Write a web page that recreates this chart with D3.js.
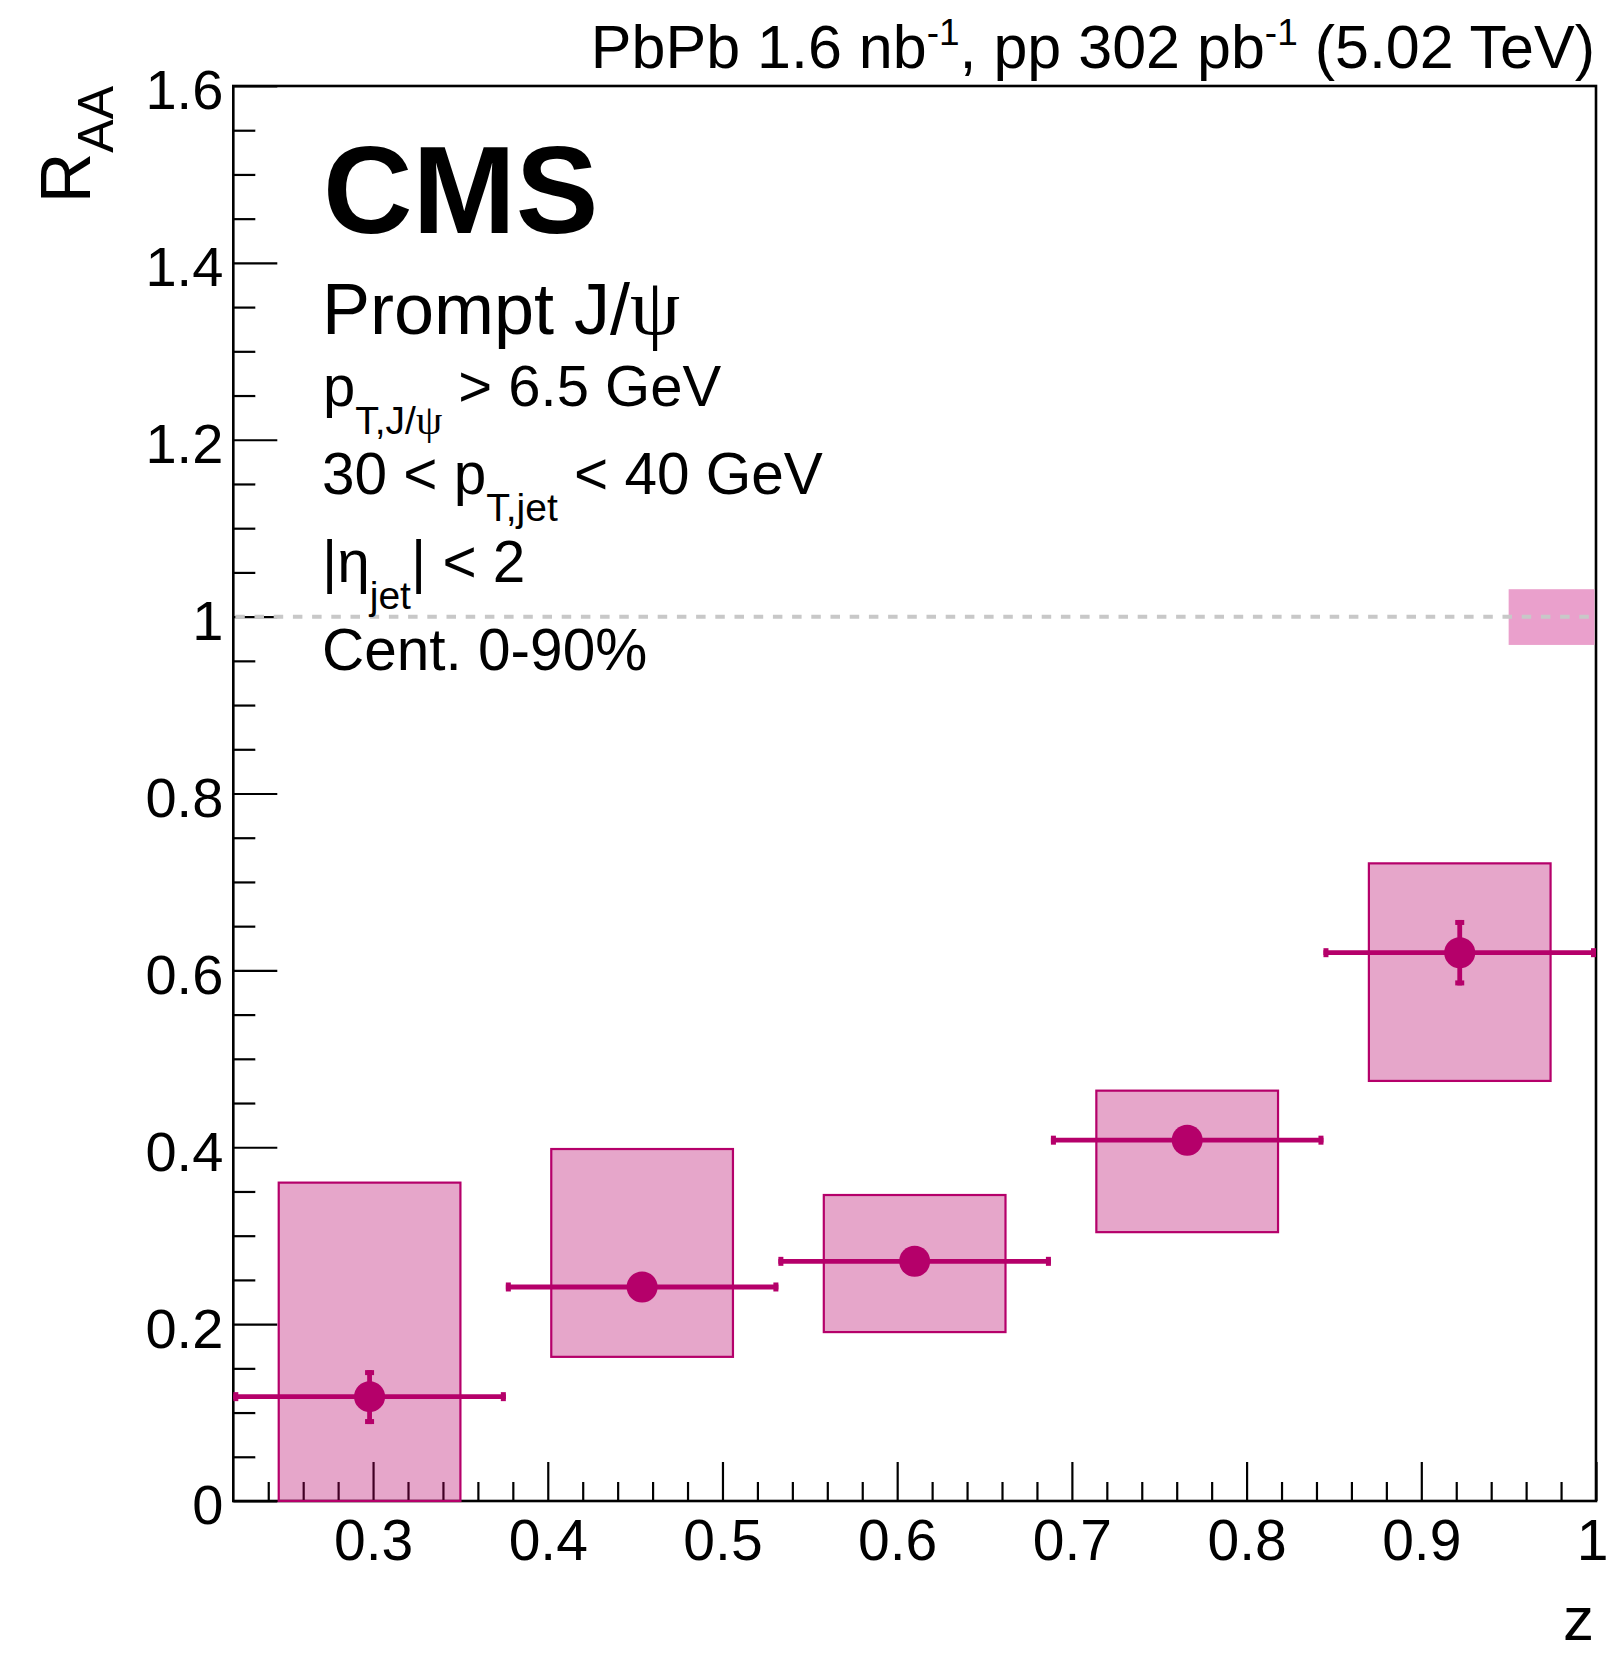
<!DOCTYPE html>
<html><head><meta charset="utf-8">
<script src="https://cdn.jsdelivr.net/npm/d3@7"></script>
<style>
body{margin:0;background:#fff}
svg{display:block}
text{font-family:"Liberation Sans",Arial,Helvetica,sans-serif;fill:#000}
</style>
</head><body><svg id="c" width="1609" height="1654"></svg>
<script>
// ---- data ----
const zCenter  = [0.298, 0.454, 0.610, 0.766, 0.922];
const zLow     = [0.220, 0.376, 0.532, 0.688, 0.844];
const zHigh    = [0.376, 0.532, 0.688, 0.844, 1.000];
const raa      = [0.118, 0.242, 0.271, 0.408, 0.620];
const statLow  = [0.087, 0.232, 0.261, 0.398, 0.583];
const statHigh = [0.148, 0.252, 0.281, 0.418, 0.657];
const systLow  = [-0.120, 0.163, 0.191, 0.304, 0.475];
const systHigh = [0.360, 0.398, 0.346, 0.464, 0.721];
const systHalfWidth = 0.052;
const globalUnc = [0.968, 1.031];
const globalZ   = [0.950, 1.000];
const refLine = 1.0;
const xDomain = [0.22, 1.0];
const yDomain = [0, 1.6];
const xMajorTicks = [0.3, 0.4, 0.5, 0.6, 0.7, 0.8, 0.9, 1.0];
const xTickLabels = ["0.3", "0.4", "0.5", "0.6", "0.7", "0.8", "0.9", "1"];
const xMinorTicks = [0.24,0.26,0.28,0.32,0.34,0.36,0.38,0.42,0.44,0.46,0.48,0.52,0.54,0.56,0.58,0.62,0.64,0.66,0.68,0.72,0.74,0.76,0.78,0.82,0.84,0.86,0.88,0.92,0.94,0.96,0.98];
const yMajorTicks = [0, 0.2, 0.4, 0.6, 0.8, 1.0, 1.2, 1.4, 1.6];
const yTickLabels = ["0", "0.2", "0.4", "0.6", "0.8", "1", "1.2", "1.4", "1.6"];
const yMinorTicks = [0.05,0.1,0.15,0.25,0.3,0.35,0.45,0.5,0.55,0.65,0.7,0.75,0.85,0.9,0.95,1.05,1.1,1.15,1.25,1.3,1.35,1.45,1.5,1.55];

// ---- layout ----
const L = 233.3, R = 1596, T = 86, B = 1501;
const mag = "#b5006a";
const svg = d3.select("#c");
const x = d3.scaleLinear().domain(xDomain).range([L, R]);
const y = d3.scaleLinear().domain(yDomain).range([B, T]);
const sans = '"Liberation Sans",Arial,sans-serif';

// axes
const gx = svg.append("g").attr("transform", `translate(0,${B})`);
gx.call(d3.axisBottom(x).tickValues(xMajorTicks).tickSize(-39)
  .tickFormat((d,i) => xTickLabels[i]));
const gxm = svg.append("g").attr("transform", `translate(0,${B})`);
gxm.call(d3.axisBottom(x).tickValues(xMinorTicks).tickSize(-19).tickFormat(""));
const gy = svg.append("g").attr("transform", `translate(${L},0)`);
gy.call(d3.axisLeft(y).tickValues(yMajorTicks).tickSize(-44).tickPadding(10)
  .tickFormat((d,i) => yTickLabels[i]));
const gym = svg.append("g").attr("transform", `translate(${L},0)`);
gym.call(d3.axisLeft(y).tickValues(yMinorTicks).tickSize(-22).tickFormat(""));
[gx, gxm, gy, gym].forEach(g => {
  g.select(".domain").remove();
  g.selectAll(".tick line").attr("stroke", "#000").attr("stroke-width", 2.2);
});
gx.selectAll(".tick text").attr("dy", null).attr("y", 59)
  .attr("x", d => d === 1 ? -4 : 0)
  .attr("font-size", 57).attr("font-family", sans).attr("fill", "#000");
gy.selectAll(".tick text").attr("dy", "0.41em")
  .attr("font-size", 56).attr("font-family", sans).attr("fill", "#000");

// frame
svg.append("rect").attr("x", L).attr("y", T).attr("width", R - L).attr("height", B - T)
  .attr("fill", "none").attr("stroke", "#000").attr("stroke-width", 2.6);

// global uncertainty box
svg.append("rect")
  .attr("x", x(globalZ[0])).attr("width", x(globalZ[1]) - x(globalZ[0]) - 1.5)
  .attr("y", y(globalUnc[1])).attr("height", y(globalUnc[0]) - y(globalUnc[1]))
  .attr("fill", "rgb(234,160,204)");

// reference line at 1
svg.append("line").attr("x1", x(xDomain[0]) + 2).attr("x2", x(xDomain[1]) - 6)
  .attr("y1", y(refLine)).attr("y2", y(refLine))
  .attr("stroke", "#c8c8c8").attr("stroke-width", 4).attr("stroke-dasharray", "9.5 9.7");

// systematic boxes
const idx = d3.range(zCenter.length);
svg.append("g").selectAll("rect").data(idx).join("rect")
  .attr("x", i => x(zCenter[i] - systHalfWidth))
  .attr("width", i => x(zCenter[i] + systHalfWidth) - x(zCenter[i] - systHalfWidth))
  .attr("y", i => y(systHigh[i]))
  .attr("height", i => y(Math.max(yDomain[0], systLow[i])) - y(systHigh[i]))
  .attr("fill", "rgba(183,0,104,0.35)").attr("stroke", mag).attr("stroke-width", 2.2);

// error bars
const eb = svg.append("g").attr("fill", mag).attr("stroke", mag);
idx.forEach(i => {
  const cx = x(zCenter[i]), cy = y(raa[i]);
  eb.append("line").attr("x1", x(zLow[i])).attr("x2", x(zHigh[i]))
    .attr("y1", cy).attr("y2", cy).attr("stroke-width", 4.8);
  eb.append("rect").attr("x", x(zLow[i])).attr("y", cy - 4.5).attr("width", 5).attr("height", 9).attr("stroke", "none");
  eb.append("rect").attr("x", x(zHigh[i]) - 5).attr("y", cy - 4.5).attr("width", 5).attr("height", 9).attr("stroke", "none");
  eb.append("line").attr("x1", cx).attr("x2", cx)
    .attr("y1", y(statHigh[i])).attr("y2", y(statLow[i])).attr("stroke-width", 4.8);
  eb.append("rect").attr("x", cx - 4.5).attr("y", y(statHigh[i])).attr("width", 9).attr("height", 5).attr("stroke", "none");
  eb.append("rect").attr("x", cx - 4.5).attr("y", y(statLow[i]) - 5).attr("width", 9).attr("height", 5).attr("stroke", "none");
});
// markers
svg.append("g").selectAll("circle").data(idx).join("circle")
  .attr("cx", i => x(zCenter[i])).attr("cy", i => y(raa[i])).attr("r", 15.5)
  .attr("fill", mag);

// ---- texts ----
function rich(parent, xPos, yPos, size, parts, anchor) {
  const t = parent.append("text").attr("x", xPos).attr("y", yPos)
    .attr("font-size", size).attr("text-anchor", anchor || "start");
  let off = 0;
  parts.forEach(p => {
    const sp = t.append("tspan").text(p.t);
    if (p.s) sp.attr("font-size", p.s);
    if (p.f) sp.attr("font-family", p.f);
    const target = p.dy || 0;
    if (target !== off) { sp.attr("dy", target - off); off = target; }
  });
  t.style("white-space", "pre");
  return t;
}
const serif = '"Liberation Serif","DejaVu Serif",serif';

// top right
rich(svg, 1595, 68, 61, [
  {t: "PbPb 1.6 nb"}, {t: "-1", s: 37, dy: -23}, {t: ", pp 302 pb", dy: 0},
  {t: "-1", s: 37, dy: -23}, {t: " (5.02 TeV)", dy: 0}
], "end");

// CMS
svg.append("text").attr("x", 323).attr("y", 233).attr("font-size", 124)
  .attr("font-weight", "bold").text("CMS");

rich(svg, 322, 334, 72, [{t: "Prompt J/"}, {t: "ψ", s: 80, f: serif}]);
rich(svg, 323, 406, 58, [{t: "p"}, {t: "T,J/", s: 39, dy: 28}, {t: "ψ", s: 42, dy: 28, f: serif}, {t: " > 6.5 GeV", dy: 0}]);
rich(svg, 322, 494, 58.5, [{t: "30 < p"}, {t: "T,jet", s: 39, dy: 27}, {t: " < 40 GeV", dy: 0}]);
rich(svg, 322, 582, 58.5, [{t: "|η"}, {t: "jet", s: 39, dy: 27}, {t: "| < 2", dy: 0}]);
rich(svg, 322, 670, 58.5, [{t: "Cent. 0-90%"}]);

// axis titles
const yt = svg.append("text").attr("transform", "translate(90,86) rotate(-90)")
  .attr("text-anchor", "end").attr("font-size", 70);
yt.append("tspan").text("R");
yt.append("tspan").text("AA").attr("font-size", 50).attr("dy", 23);

svg.append("text").attr("x", 1594).attr("y", 1640).attr("text-anchor", "end")
  .attr("font-size", 62).text("z");
</script>
</body></html>
